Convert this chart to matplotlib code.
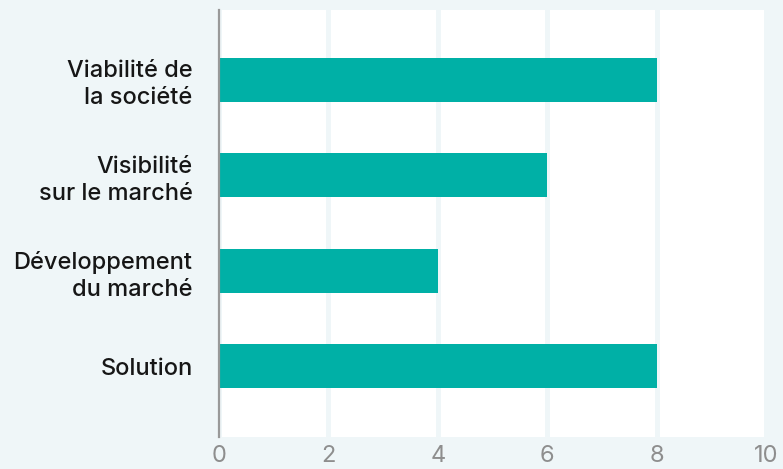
import matplotlib
matplotlib.use("Agg")
import matplotlib.pyplot as plt
import numpy as np

# data
categories = ["Viabilité de\nla société", "Visibilité\nsur le marché",
              "Développement\ndu marché", "Solution"]
scores = [8, 6, 4, 8]
xticks = [0, 2, 4, 6, 8, 10]

bg = "#eff6f8"
teal = "#00b0a6"
grey = "#8e8e8e"

plt.rcParams["font.family"] = ["Inter", "DejaVu Sans"]

fig = plt.figure(figsize=(7.83, 4.69), dpi=100, facecolor=bg)
ax = fig.add_axes([219/783, 32/469, 547/783, 427/469])
ax.set_facecolor("white")

y = np.arange(len(categories))
ax.barh(y, scores, height=0.46, color=teal, zorder=3)

ax.set_xlim(0, 10)
ax.set_ylim(3.74, -0.73)
ax.set_xticks(xticks)
ax.set_xticklabels([str(t) for t in xticks])
ax.set_yticks(y)
ax.set_yticklabels(categories, ha="right", multialignment="right",
                   fontweight="medium", linespacing=1.3)

ax.grid(axis="x", color=bg, linewidth=3.6, zorder=1)
ax.grid(axis="y", visible=False)
for s in ["top", "right", "bottom"]:
    ax.spines[s].set_visible(False)
ax.spines["left"].set_color("#999999")
ax.spines["left"].set_linewidth(1.6)
ax.spines["left"].set_zorder(4)

ax.tick_params(axis="x", length=0, pad=6, labelsize=17, labelcolor=grey)
ax.tick_params(axis="y", length=0, pad=19, labelsize=17, labelcolor="#161616")

fig.savefig("out.png", dpi=100, facecolor=bg)
